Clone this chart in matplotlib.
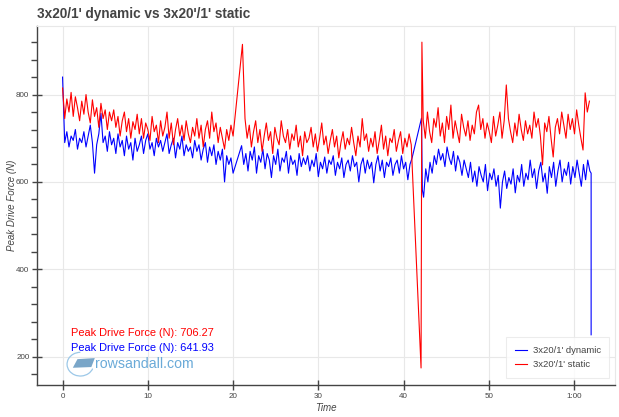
import matplotlib
matplotlib.use('agg')
import matplotlib.pyplot as plt
from matplotlib.patches import Arc, Polygon
import numpy as np

plt.rcParams['font.family'] = ['Liberation Sans', 'DejaVu Sans']

# static (red) series in chunks of 0.25 min
red_a_start = 0.0
red_a = [815, 745, 790, 760, 805, 750, 795, 770, 740, 785, 755, 800,
         760, 735, 788, 750, 770, 725, 780, 745, 765, 720, 760, 740,
         765, 725, 750, 705, 740, 760, 715, 745, 700, 738, 720, 755,
         710, 745, 700, 735, 720, 695, 750, 715, 730, 690, 740, 705,
         725, 760, 700, 735, 685, 720, 745, 705, 730, 695, 740, 710,
         690, 725, 705, 745, 700, 730, 680, 720, 740, 700, 760, 715,
         735, 690, 725, 700, 675, 720, 695, 730, 705]
red_spike1_t = [21.1]
red_spike1 = [915]
red_b_start = 21.4
red_b = [745, 700, 730, 680, 715, 740, 690, 720, 670, 705,
         735, 695, 715, 665, 725, 700, 685, 740, 705, 690,
         720, 675, 710, 695, 730, 680, 705, 660, 715, 690,
         700, 725, 680, 710, 670, 700, 735, 685, 705, 665,
         695, 720, 680, 705, 655, 690, 715, 675, 700, 685,
         725, 690, 660, 705, 680, 745, 695, 710, 670, 700,
         680, 715, 665, 695, 730, 675, 705, 660, 700, 690,
         720, 670, 695, 715, 665, 700, 680, 710, 685]
red_spike2_t = [42.05, 42.15]
red_spike2 = [174, 920]
red_c_start = 42.3
red_c = [742, 700, 760, 715, 690, 745, 725, 770, 705, 735,
         690, 750, 720, 776, 700, 740, 715, 690, 755, 725,
         705, 740, 695, 730, 710, 760, 776, 720, 745, 700,
         735, 715, 690, 750, 705, 730, 760, 700, 740, 822,
         745, 715, 690, 735, 705, 755, 720, 695, 740, 710,
         730, 700, 760, 725, 745, 705, 639, 735, 715, 750,
         700, 657, 725, 745, 710, 760, 730, 700, 755, 720,
         745, 710, 765, 730, 700, 673, 804, 760, 785]

# dynamic (blue) series
blue_a_start = 0.0
blue_a = [840, 690, 715, 680, 705, 695, 720, 675, 700, 690, 715, 680,
          705, 730, 690, 620, 685, 710, 757, 690, 705, 670, 715, 685,
          700, 665, 710, 680, 695, 660, 705, 675, 690, 650, 700, 670,
          685, 705, 665, 695, 710, 675, 690, 660, 700, 680, 695, 670,
          690, 710, 665, 685, 700, 655, 690, 675, 705, 660, 685, 670,
          680, 655, 695, 670, 685, 650, 675, 690, 645, 680, 660, 685,
          640, 670, 650, 675, 600, 660, 640, 655, 620]
blue_b_start = 21.0
blue_b = [683, 640, 665, 625, 670, 650, 680, 620, 660, 645,
          675, 630, 665, 650, 610, 660, 640, 675, 625, 655,
          645, 670, 620, 660, 640, 650, 615, 665, 635, 655,
          640, 660, 625, 650, 635, 665, 612, 645, 630, 657,
          620, 650, 640, 660, 615, 645, 630, 655, 610, 640,
          650, 625, 660, 635, 645, 600, 640, 655, 620, 650,
          630, 645, 598, 640, 660, 625, 650, 610, 645, 635,
          655, 615, 640, 650, 620, 660, 630, 645, 605, 640, 655]
blue_jump_t = [42.1, 42.2]
blue_jump = [746, 582]
blue_c_start = 42.35
blue_c = [565, 630, 600, 645, 620, 660, 640, 675, 650, 665,
          635, 680, 655, 640, 670, 625, 660, 645, 615, 650,
          630, 610, 645, 600, 625, 590, 635, 615, 600, 640,
          580, 620, 605, 630, 590, 615, 540, 600, 625, 585,
          610, 595, 630, 575, 615, 600, 640, 590, 620, 605,
          650, 610, 630, 585, 625, 645, 600, 620, 574, 635,
          610, 645, 590, 625, 650, 600, 630, 615, 645, 595,
          635, 610, 650, 620, 590, 640, 605, 650, 625]
blue_end_t = [62.0, 62.0]
blue_end = [620, 250]

step = 0.25
x_ticks = [0, 10, 20, 30, 40, 50, 60]
x_ticklabels = ['0', '10', '20', '30', '40', '50', '1:00']
red_label = "3x20'/1' static"
blue_label = "3x20/1' dynamic"
red_avg = 706.27
blue_avg = 641.93


def seg_t(start, vals):
    return start + step * np.arange(len(vals))


red_t = np.concatenate([seg_t(red_a_start, red_a), red_spike1_t,
                        seg_t(red_b_start, red_b), red_spike2_t,
                        seg_t(red_c_start, red_c)])
red_y = np.concatenate([red_a, red_spike1, red_b, red_spike2, red_c])
blue_t = np.concatenate([seg_t(blue_a_start, blue_a), seg_t(blue_b_start, blue_b),
                         blue_jump_t, seg_t(blue_c_start, blue_c), blue_end_t])
blue_y = np.concatenate([blue_a, blue_b, blue_jump, blue_c, blue_end])

fig = plt.figure(figsize=(6.19, 4.17), dpi=100)
ax = fig.add_axes([37 / 619, 1 - 385 / 417, 578 / 619, 359 / 417])

ax.plot(blue_t, blue_y, color='blue', lw=0.8, label=blue_label)
ax.plot(red_t, red_y, color='red', lw=0.8, label=red_label)

ax.set_xlim(-3.0, 64.8)
ax.set_ylim(135, 957)
ax.set_xticks(x_ticks)
ax.set_xticklabels(x_ticklabels)
ax.set_yticks([200, 400, 600, 800])
ax.set_yticks(np.arange(160, 957, 40), minor=True)
ax.grid(True, color='#e8e8e8', lw=0.8)
ax.set_axisbelow(True)

for s in ['top', 'right']:
    ax.spines[s].set_color('#e8e8e8')
    ax.spines[s].set_linewidth(0.8)
for s in ['left', 'bottom']:
    ax.spines[s].set_color('#444444')
    ax.spines[s].set_linewidth(1.0)
ax.tick_params(axis='both', which='major', direction='inout', length=7, width=1,
               colors='#444444', labelsize=5.8, labelcolor='#444444', pad=2)
ax.tick_params(axis='y', which='minor', direction='out', length=4, width=1, colors='#444444')
ax.tick_params(axis='x', which='minor', bottom=False)

ax.set_xlabel('Time', style='italic', fontsize=7, color='#444444')
ax.set_ylabel('Peak Drive Force (N)', style='italic', fontsize=7, color='#444444')
ax.xaxis.set_label_coords(0.5, -0.05)
ax.yaxis.set_label_coords(-0.034, 0.5)
fig.text(37 / 619, 1 - 14 / 417, "3x20/1' dynamic vs 3x20'/1' static", fontsize=9.8,
         fontweight='bold', color='#444444', va='center', ha='left')

# average annotations
ax.text(1.0, 253, 'Peak Drive Force (N): %.2f' % red_avg, color='red', fontsize=7.9, va='center')
ax.text(1.0, 219, 'Peak Drive Force (N): %.2f' % blue_avg, color='blue', fontsize=7.9, va='center')

# watermark
ax.text(0.101, 0.058, 'rowsandall.com', transform=ax.transAxes, color='#6aaad8',
        fontsize=10.2, va='center', ha='left')
ax.add_patch(Arc((0.075, 0.058), 0.046, 0.066, theta1=90, theta2=330,
                 transform=ax.transAxes, color='#9cc8e8', lw=0.9))
ax.add_patch(Polygon([[0.062, 0.048], [0.07, 0.072], [0.1, 0.075], [0.094, 0.05]],
                     closed=True, transform=ax.transAxes, color='#7aa6c8', lw=0))

leg = ax.legend(loc='lower right', fontsize=6.8, frameon=True, fancybox=False,
                edgecolor='#e8e8e8', handlelength=1.3, handletextpad=0.6,
                borderpad=0.9, labelspacing=0.6, borderaxespad=0,
                bbox_to_anchor=(0.99, 0.0195))
leg.get_frame().set_linewidth(0.8)
for t in leg.get_texts():
    t.set_color('#444444')

fig.savefig('out.png', dpi=100)
